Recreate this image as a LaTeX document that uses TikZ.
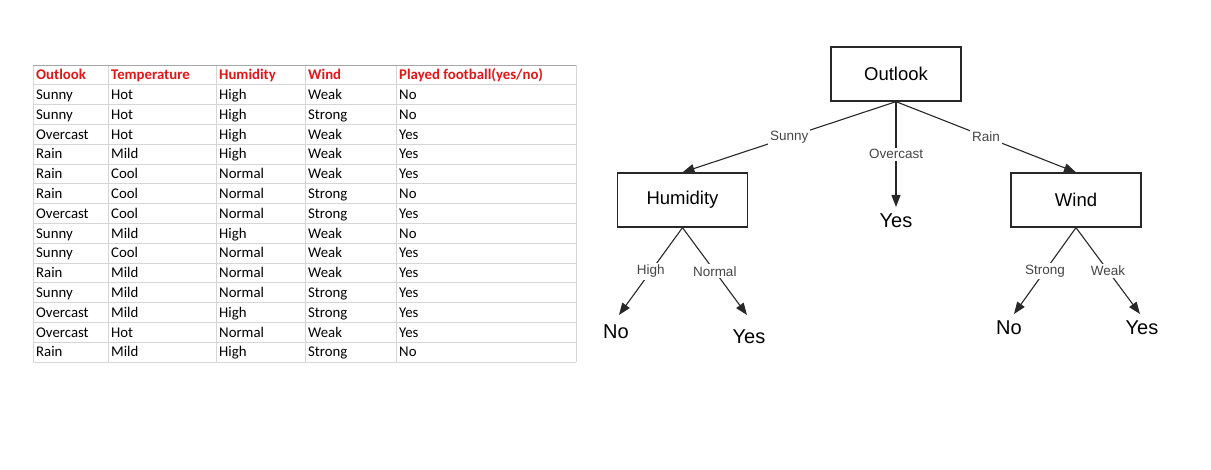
\documentclass[tikz,border=0pt]{standalone}
\usepackage{fontspec}
\setmainfont{Liberation Sans}
\newfontfamily\sheetfont{Carlito}
\usetikzlibrary{arrows.meta}

\definecolor{gridgray}{RGB}{214,214,214}
\definecolor{headred}{RGB}{224,24,24}
\definecolor{inkgray}{RGB}{40,40,40}
\definecolor{lblgray}{RGB}{70,70,70}

\tikzset{
  cell/.style={anchor=base west, inner sep=0pt, font=\sheetfont\fontsize{14.8}{16}\selectfont},
  header/.style={cell, text=headred, font=\sheetfont\bfseries\fontsize{14.8}{16}\selectfont},
  gridline/.style={draw=gridgray, line width=0.9pt},
  decision/.style={draw=inkgray, line width=1.3pt, minimum width=130pt, minimum height=54pt,
    font=\fontsize{18.5}{20}\selectfont},
  leaf/.style={inner sep=0pt, font=\fontsize{20}{22}\selectfont},
  branch/.style={draw=inkgray, line width=1.1pt, -{Triangle[length=12pt,width=9pt]}},
  edgelbl/.style={fill=white, inner sep=2pt, text=lblgray, font=\fontsize{13.5}{15}\selectfont},
}

% one spreadsheet row: index, five cells, style
\NewDocumentCommand{\sheetrow}{mmmmmmO{cell}}{%
\pgfmathsetmacro{\rowbase}{65+19.8*#1+14.8}%
\node[#7] (r#1c1) at (36,\rowbase) {#2};%
\node[#7] (r#1c2) at (111,\rowbase) {#3};%
\node[#7] (r#1c3) at (219,\rowbase) {#4};%
\node[#7] (r#1c4) at (308,\rowbase) {#5};%
\node[#7] (r#1c5) at (399,\rowbase) {#6};%
}

\begin{document}
\begin{tikzpicture}[x=1pt, y=-1pt]
\useasboundingbox[fill=white] (0,0) rectangle (1211,470);

% the table
\foreach \i in {0,...,15} {\draw[gridline] (33,65+19.8*\i) -- (576,65+19.8*\i);}
\foreach \x in {33,108,216,305,396,576} {\draw[gridline] (\x,65) -- (\x,362);}
\draw[gray!70, line width=0.9pt] (33,65) -- (576,65);

\sheetrow{0}{Outlook}{Temperature}{Humidity}{Wind}{Played football(yes/no)}[header]
\foreach \r/\a/\b/\c/\d/\e in {
  1/Sunny/Hot/High/Weak/No,
  2/Sunny/Hot/High/Strong/No,
  3/Overcast/Hot/High/Weak/Yes,
  4/Rain/Mild/High/Weak/Yes,
  5/Rain/Cool/Normal/Weak/Yes,
  6/Rain/Cool/Normal/Strong/No,
  7/Overcast/Cool/Normal/Strong/Yes,
  8/Sunny/Mild/High/Weak/No,
  9/Sunny/Cool/Normal/Weak/Yes,
  10/Rain/Mild/Normal/Weak/Yes,
  11/Sunny/Mild/Normal/Strong/Yes,
  12/Overcast/Mild/High/Strong/Yes,
  13/Overcast/Hot/Normal/Weak/Yes,
  14/Rain/Mild/High/Strong/No} {
  \sheetrow{\r}{\a}{\b}{\c}{\d}{\e}
}

% the tree
\node[decision] (outlook) at (896,74) {Outlook};
\node[decision] (humidity) at (682.5,200) {Humidity};
\node[decision] (wind) at (1076,200) {Wind};

\node[leaf] (yesmid) at (896,221) {Yes};
\node[leaf] (hno) at (616,332) {No};
\node[leaf] (hyes) at (749,337) {Yes};
\node[leaf] (wno) at (1009,328) {No};
\node[leaf] (wyes) at (1142,328) {Yes};

\coordinate (tipmid) at (896,207);
\coordinate (tiphno) at (619,315);
\coordinate (tiphyes) at (747,315);
\coordinate (tipwno) at (1014,314);
\coordinate (tipwyes) at (1140,314);

\draw[branch] (outlook.south) -- node[edgelbl] {Sunny} (humidity.north);
\draw[branch] (outlook.south) -- node[edgelbl] {Overcast} (tipmid);
\draw[branch] (outlook.south) -- node[edgelbl] {Rain} (wind.north);

\draw[branch] (humidity.south) -- node[edgelbl] {High} (tiphno);
\draw[branch] (humidity.south) -- node[edgelbl] {Normal} (tiphyes);
\draw[branch] (wind.south) -- node[edgelbl] {Strong} (tipwno);
\draw[branch] (wind.south) -- node[edgelbl] {Weak} (tipwyes);
\end{tikzpicture}
\end{document}
